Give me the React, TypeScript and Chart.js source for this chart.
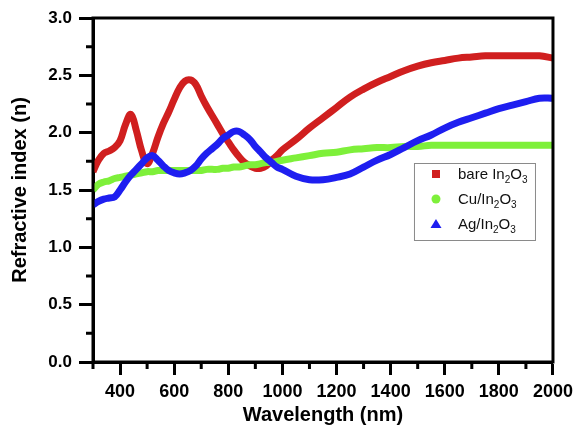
import React, { useEffect, useRef } from 'react';
import { Chart, registerables } from 'chart.js';

Chart.register(...registerables);

// Wavelength grid (nm)
const wavelengths = [
  300, 320, 340, 360, 380, 400, 420, 440, 460, 480,
  500, 520, 540, 560, 580, 600, 620, 640, 660, 680,
  700, 720, 740, 760, 780, 800, 820, 840, 860, 880,
  900, 920, 940, 960, 980, 1000,
  1050, 1100, 1150, 1200, 1250, 1300, 1350, 1400, 1450, 1500,
  1550, 1600, 1650, 1700, 1750, 1800, 1850, 1900, 1950, 2000,
];

// Refractive index series
const bareIn2O3 = [
  1.66, 1.76, 1.82, 1.84, 1.87, 1.93, 2.07, 2.16, 2.02, 1.84,
  1.73, 1.82, 1.96, 2.08, 2.18, 2.29, 2.39, 2.45, 2.46, 2.42,
  2.32, 2.23, 2.15, 2.07, 1.99, 1.92, 1.85, 1.79, 1.74, 1.71,
  1.69, 1.69, 1.71, 1.76, 1.80, 1.85,
  1.94, 2.04, 2.13, 2.22, 2.31, 2.38, 2.44, 2.49, 2.54, 2.58,
  2.61, 2.63, 2.65, 2.66, 2.67, 2.67, 2.67, 2.67, 2.67, 2.65,
];
const cuIn2O3 = [
  1.50, 1.55, 1.57, 1.58, 1.60, 1.61, 1.62, 1.63, 1.64, 1.65,
  1.66, 1.66, 1.67, 1.67, 1.67, 1.67, 1.67, 1.67, 1.67, 1.67,
  1.67, 1.68, 1.68, 1.68, 1.69, 1.69, 1.70, 1.70, 1.71, 1.72,
  1.72, 1.73, 1.74, 1.74, 1.75, 1.76,
  1.78, 1.80, 1.82, 1.83, 1.85, 1.86, 1.87, 1.87, 1.88, 1.88,
  1.89, 1.89, 1.89, 1.89, 1.89, 1.89, 1.89, 1.89, 1.89, 1.89,
];
const agIn2O3 = [
  1.37, 1.40, 1.42, 1.43, 1.44, 1.50, 1.57, 1.63, 1.68, 1.73,
  1.78, 1.80, 1.76, 1.71, 1.67, 1.65, 1.64, 1.65, 1.67, 1.71,
  1.77, 1.82, 1.86, 1.90, 1.95, 1.98, 2.01, 2.01, 1.98, 1.94,
  1.88, 1.83, 1.78, 1.74, 1.70, 1.68,
  1.62, 1.59, 1.59, 1.61, 1.64, 1.70, 1.76, 1.81, 1.87, 1.93,
  1.98, 2.04, 2.09, 2.13, 2.17, 2.21, 2.24, 2.27, 2.30, 2.30,
];

const seriesLabels = ['bare In₂O₃', 'Cu/In₂O₃', 'Ag/In₂O₃'];

const xMajorTicks = [400, 600, 800, 1000, 1200, 1400, 1600, 1800, 2000];
const xMinorTicks = [300, 500, 700, 900, 1100, 1300, 1500, 1700, 1900];
const yMajorTicks = [0, 0.5, 1.0, 1.5, 2.0, 2.5, 3.0];
const yMinorTicks = [0.25, 0.75, 1.25, 1.75, 2.25, 2.75];

const FONT = "'Liberation Sans', Arial, sans-serif";
const SUBS = '₀₁₂₃₄₅₆₇₈₉';

const framePlugin = {
  id: 'frameAndMinorTicks',
  afterDatasetsDraw(chart: any) {
    const { ctx, chartArea, scales } = chart;
    const { left, right, top, bottom } = chartArea;
    ctx.save();
    ctx.strokeStyle = '#000';
    ctx.lineWidth = 3;
    ctx.lineJoin = 'miter';
    ctx.strokeRect(left, top, right - left, bottom - top);
    ctx.beginPath();
    xMinorTicks.forEach((v) => {
      const px = scales.x.getPixelForValue(v);
      ctx.moveTo(px, bottom);
      ctx.lineTo(px, bottom + 7);
    });
    yMinorTicks.forEach((v) => {
      const py = scales.y.getPixelForValue(v);
      ctx.moveTo(left, py);
      ctx.lineTo(left - 7, py);
    });
    ctx.stroke();
    ctx.restore();
  },
};

function drawRichText(ctx: CanvasRenderingContext2D, text: string, x: number, baseline: number) {
  let cx = x;
  for (const ch of text) {
    const si = SUBS.indexOf(ch);
    if (si >= 0) {
      ctx.font = `10px ${FONT}`;
      const d = String(si);
      ctx.fillText(d, cx, baseline + 4);
      cx += ctx.measureText(d).width;
    } else {
      ctx.font = `15px ${FONT}`;
      ctx.fillText(ch, cx, baseline);
      cx += ctx.measureText(ch).width;
    }
  }
}

const legendPlugin = {
  id: 'insetLegend',
  afterDraw(chart: any) {
    const { ctx, chartArea } = chart;
    const x0 = chartArea.right - 139;
    const y0 = chartArea.top + 145;
    const w = 121;
    const h = 77;
    ctx.save();
    ctx.fillStyle = '#fff';
    ctx.fillRect(x0, y0, w, h);
    ctx.strokeStyle = '#8a8a8a';
    ctx.lineWidth = 1;
    ctx.strokeRect(x0 + 0.5, y0 + 0.5, w, h);
    chart.data.datasets.forEach((ds: any, i: number) => {
      const cy = y0 + 11 + i * 25;
      const mx = x0 + 22;
      ctx.fillStyle = ds.borderColor;
      ctx.beginPath();
      if (ds.pointStyle === 'rect') {
        ctx.rect(mx - 4, cy - 4, 8, 8);
      } else if (ds.pointStyle === 'circle') {
        ctx.arc(mx, cy, 4.5, 0, Math.PI * 2);
      } else {
        ctx.moveTo(mx, cy - 5);
        ctx.lineTo(mx + 5.5, cy + 4);
        ctx.lineTo(mx - 5.5, cy + 4);
        ctx.closePath();
      }
      ctx.fill();
      ctx.fillStyle = '#111';
      ctx.textBaseline = 'alphabetic';
      ctx.textAlign = 'left';
      drawRichText(ctx, ds.label, x0 + 44, cy + 5);
    });
    ctx.restore();
  },
};

export default function App() {
  const canvasRef = useRef<HTMLCanvasElement | null>(null);

  useEffect(() => {
    if (!canvasRef.current) return;
    const mk = (vals: number[]) => wavelengths.map((x, i) => ({ x, y: vals[i] }));
    const chart = new Chart(canvasRef.current, {
      type: 'line',
      data: {
        datasets: [
          {
            label: seriesLabels[0],
            data: mk(bareIn2O3),
            borderColor: '#d01f1f',
            pointStyle: 'rect',
            order: 3,
          },
          {
            label: seriesLabels[1],
            data: mk(cuIn2O3),
            borderColor: '#7ef03a',
            pointStyle: 'circle',
            order: 2,
          },
          {
            label: seriesLabels[2],
            data: mk(agIn2O3),
            borderColor: '#1e1ef0',
            pointStyle: 'triangle',
            order: 1,
          },
        ] as any,
      },
      options: {
        animation: false,
        responsive: true,
        maintainAspectRatio: false,
        layout: { padding: { top: 18, right: 24, left: 0, bottom: 0 } },
        elements: {
          line: { borderWidth: 7, tension: 0.4, borderJoinStyle: 'round', fill: false },
          point: { radius: 0, hoverRadius: 0 },
        },
        plugins: {
          legend: { display: false },
          tooltip: { enabled: false },
        },
        scales: {
          x: {
            type: 'linear',
            min: 300,
            max: 2000,
            afterBuildTicks: (s: any) => {
              s.ticks = xMajorTicks.map((v) => ({ value: v }));
            },
            afterFit: (s: any) => {
              s.height = 69;
            },
            grid: {
              display: true,
              drawOnChartArea: false,
              drawTicks: true,
              tickLength: 13,
              tickWidth: 3,
              tickColor: '#000',
            },
            border: { display: true, color: '#000', width: 3 },
            ticks: {
              color: '#000',
              font: { family: FONT, size: 18, weight: 'bold' },
              padding: 6,
              maxRotation: 0,
              autoSkip: false,
              callback: (v: any) => String(v),
            },
            title: {
              display: true,
              text: 'Wavelength (nm)',
              color: '#000',
              font: { family: FONT, size: 20, weight: 'bold' },
              padding: { top: 0, bottom: 4 },
            },
          },
          y: {
            type: 'linear',
            min: 0,
            max: 3,
            afterBuildTicks: (s: any) => {
              s.ticks = yMajorTicks.map((v) => ({ value: v }));
            },
            afterFit: (s: any) => {
              s.width = 93;
            },
            grid: {
              display: true,
              drawOnChartArea: false,
              drawTicks: true,
              tickLength: 14,
              tickWidth: 3,
              tickColor: '#000',
            },
            border: { display: true, color: '#000', width: 3 },
            ticks: {
              color: '#000',
              font: { family: FONT, size: 17, weight: 'bold' },
              padding: 7,
              autoSkip: false,
              callback: (v: any) => Number(v).toFixed(1),
            },
            title: {
              display: true,
              text: 'Refractive index (n)',
              color: '#000',
              font: { family: FONT, size: 20, weight: 'bold' },
              padding: { top: 8, bottom: 0 },
            },
          },
        },
      } as any,
      plugins: [framePlugin, legendPlugin],
    });
    return () => chart.destroy();
  }, []);

  return (
    <div style={{ position: 'absolute', left: 0, top: 0, width: 579, height: 431, background: '#fff' }}>
      <canvas ref={canvasRef} />
    </div>
  );
}
